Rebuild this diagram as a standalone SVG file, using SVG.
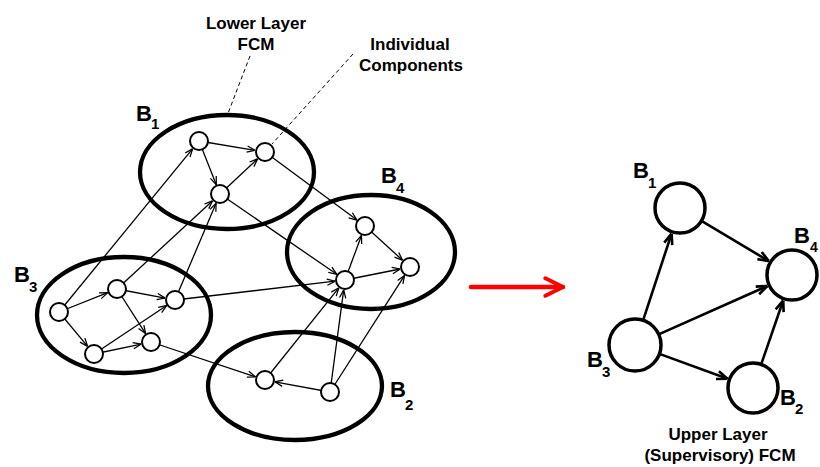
<svg xmlns="http://www.w3.org/2000/svg" width="820" height="467" viewBox="0 0 820 467">
<style>
.grp{fill:none;stroke:#000;stroke-width:4.3}
.sn{fill:#fff;stroke:#000;stroke-width:2}
.bn{fill:#fff;stroke:#000;stroke-width:3.5}
.e{stroke:#000;stroke-width:1.3;fill:none;marker-end:url(#ah)}
.E{stroke:#000;stroke-width:2.6;fill:none;marker-end:url(#AH)}
.d{stroke:#000;stroke-width:1;stroke-dasharray:4,3;fill:none}
.t{font-family:"Liberation Sans",Arial,sans-serif;font-weight:bold;font-size:17px;fill:#000;text-anchor:middle}
.b{font-family:"Liberation Sans",Arial,sans-serif;font-weight:bold;font-size:22px;fill:#000}
.s{font-family:"Liberation Sans",Arial,sans-serif;font-weight:bold;font-size:15px;fill:#000}
</style>
<defs>
<marker id="ah" viewBox="0 0 10 10" refX="10" refY="5" markerUnits="userSpaceOnUse" markerWidth="9" markerHeight="9" orient="auto">
<path d="M1,1.5 L10,5 L1,8.5" fill="none" stroke="#000" stroke-width="1.4"/>
</marker>
<marker id="AH" viewBox="0 0 10 10" refX="10" refY="5" markerUnits="userSpaceOnUse" markerWidth="12" markerHeight="12" orient="auto">
<path d="M1,1.5 L10,5 L1,8.5" fill="none" stroke="#000" stroke-width="2.2"/>
</marker>
<marker id="rh" viewBox="0 0 10 10" refX="9" refY="5" markerUnits="userSpaceOnUse" markerWidth="22" markerHeight="22" orient="auto">
<path d="M1,1 L9,5 L1,9" fill="none" stroke="#f00" stroke-width="1.8" stroke-linecap="round" stroke-linejoin="round"/>
</marker>
</defs>
<rect width="820" height="467" fill="#fff"/>

<g id="labels">
<text class="t" x="256" y="29">Lower Layer</text>
<text class="t" x="256" y="50">FCM</text>
<text class="t" x="410" y="50">Individual</text>
<text class="t" x="411" y="71">Components</text>
<text class="t" x="718" y="440">Upper Layer</text>
<text class="t" x="720" y="461">(Supervisory) FCM</text>
</g>

<g id="connectors">
<line class="d" x1="250" y1="56" x2="227" y2="116"/>
<line class="d" x1="353" y1="54" x2="272" y2="144"/>
<line class="e" x1="199" y1="141" x2="255.1" y2="150.4"/>
<line class="e" x1="199" y1="141" x2="216.3" y2="184.7"/>
<line class="e" x1="220" y1="194" x2="257.7" y2="158.8"/>
<line class="e" x1="345" y1="280" x2="361.5" y2="235.4"/>
<line class="e" x1="365" y1="226" x2="402.6" y2="260.3"/>
<line class="e" x1="345" y1="280" x2="400.2" y2="269"/>
<line class="e" x1="59" y1="312" x2="107.7" y2="292.7"/>
<line class="e" x1="117" y1="289" x2="165.2" y2="298.1"/>
<line class="e" x1="59" y1="312" x2="87.6" y2="346.3"/>
<line class="e" x1="94" y1="354" x2="141.2" y2="344.1"/>
<line class="e" x1="117" y1="289" x2="145.6" y2="333.6"/>
<line class="e" x1="94" y1="354" x2="166.7" y2="305.5"/>
<line class="e" x1="59" y1="312" x2="192.7" y2="148.7"/>
<line class="e" x1="117" y1="289" x2="212.6" y2="200.8"/>
<line class="e" x1="175" y1="300" x2="216.1" y2="203.2"/>
<line class="e" x1="265" y1="152" x2="357" y2="220.1"/>
<line class="e" x1="220" y1="194" x2="336.8" y2="274.3"/>
<line class="e" x1="175" y1="300" x2="335.1" y2="281.2"/>
<line class="e" x1="151" y1="342" x2="255.5" y2="376.8"/>
<line class="e" x1="330" y1="392" x2="274.8" y2="381.8"/>
<line class="e" x1="265" y1="380" x2="338.8" y2="287.8"/>
<line class="e" x1="330" y1="392" x2="343.7" y2="289.9"/>
<line class="e" x1="330" y1="392" x2="404.6" y2="275.4"/>
<line class="E" x1="643.1" y1="320.3" x2="671.6" y2="233.6"/>
<line class="E" x1="702.3" y1="221.3" x2="768.8" y2="261.1"/>
<line class="E" x1="658.7" y1="334.4" x2="767.3" y2="286"/>
<line class="E" x1="659.4" y1="353.9" x2="727.6" y2="378.8"/>
<line class="E" x1="761.5" y1="363.4" x2="783.2" y2="300.5"/>
<line x1="471" y1="287" x2="563" y2="287" stroke="#f00" stroke-width="4.5" stroke-linecap="round" marker-end="url(#rh)"/>
</g>

<g id="B1-lower">
<ellipse class="grp" cx="227" cy="172" rx="87" ry="57"/>
<text class="b" x="136" y="121">B</text><text class="s" x="151" y="129">1</text>
</g>
<g id="B4-lower">
<ellipse class="grp" cx="371" cy="252" rx="84" ry="57"/>
<text class="b" x="381" y="183">B</text><text class="s" x="396" y="193">4</text>
</g>
<g id="B3-lower">
<ellipse class="grp" cx="124" cy="315" rx="87" ry="58"/>
<text class="b" x="14" y="282">B</text><text class="s" x="29" y="292">3</text>
</g>
<g id="B2-lower">
<ellipse class="grp" cx="295" cy="386" rx="87" ry="54"/>
<text class="b" x="390" y="397">B</text><text class="s" x="405" y="410">2</text>
</g>

<g id="n1a"><circle class="sn" cx="199" cy="141" r="9"/></g>
<g id="n1b"><circle class="sn" cx="265" cy="152" r="9"/></g>
<g id="n1c"><circle class="sn" cx="220" cy="194" r="9"/></g>
<g id="n4a"><circle class="sn" cx="365" cy="226" r="9"/></g>
<g id="n4b"><circle class="sn" cx="410" cy="267" r="9"/></g>
<g id="n4c"><circle class="sn" cx="345" cy="280" r="9"/></g>
<g id="n3a"><circle class="sn" cx="59" cy="312" r="9"/></g>
<g id="n3b"><circle class="sn" cx="117" cy="289" r="9"/></g>
<g id="n3c"><circle class="sn" cx="175" cy="300" r="9"/></g>
<g id="n3d"><circle class="sn" cx="94" cy="354" r="9"/></g>
<g id="n3e"><circle class="sn" cx="151" cy="342" r="9"/></g>
<g id="n2a"><circle class="sn" cx="265" cy="380" r="9"/></g>
<g id="n2b"><circle class="sn" cx="330" cy="392" r="9"/></g>

<g id="B1-upper">
<circle class="bn" cx="680" cy="208" r="25"/>
<text class="b" x="633" y="178">B</text><text class="s" x="648" y="188">1</text>
</g>
<g id="B4-upper">
<circle class="bn" cx="792" cy="275" r="25"/>
<text class="b" x="794" y="243">B</text><text class="s" x="810" y="252" style="font-size:14px">4</text>
</g>
<g id="B3-upper">
<circle class="bn" cx="635" cy="345" r="26"/>
<text class="b" x="587" y="367">B</text><text class="s" x="602" y="377">3</text>
</g>
<g id="B2-upper">
<circle class="bn" cx="753" cy="388" r="25"/>
<text class="b" x="780" y="405">B</text><text class="s" x="795" y="414">2</text>
</g>
</svg>
